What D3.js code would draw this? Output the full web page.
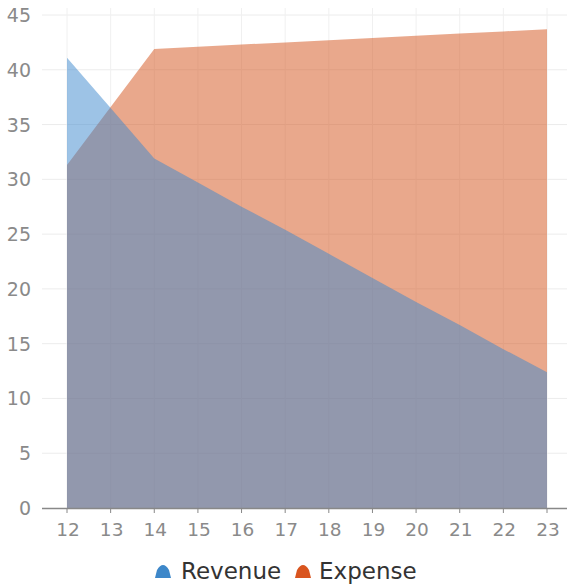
<!DOCTYPE html>
<html><head><meta charset="utf-8">
<script src="https://cdn.jsdelivr.net/npm/d3@7"></script>
<style>body{margin:0;background:#fff}svg{display:block}</style>
</head><body>
<script>
const xs = [12,13,14,15,16,17,18,19,20,21,22,23];
const revenue = [41.1,36.5,31.9,29.7,27.5,25.4,23.2,21.0,18.8,16.7,14.5,12.4];
const expense = [31.3,36.6,41.9,42.1,42.3,42.5,42.7,42.9,43.1,43.3,43.5,43.7];
const yTicks = [0,5,10,15,20,25,30,35,40,45];
const seriesNames = ["Revenue","Expense"];

const W=567,H=585;
const svg=d3.select("body").append("svg").attr("width",W).attr("height",H);
const x=d3.scaleLinear().domain([12,23]).range([67,547]);
const y=d3.scaleLinear().domain([0,45]).range([508,15]);

// grid
svg.append("g").selectAll("line.h").data(yTicks.filter(d=>d>0)).join("line")
 .attr("x1",42).attr("x2",567).attr("y1",d=>y(d)).attr("y2",d=>y(d))
 .attr("stroke","#ececec").attr("stroke-width",1);
svg.append("g").selectAll("line.v").data(xs).join("line")
 .attr("x1",d=>x(d)).attr("x2",d=>x(d)).attr("y1",8).attr("y2",508)
 .attr("stroke","#f0f0f0").attr("stroke-width",1);

const area=vals=>d3.area().x((d,i)=>x(xs[i])).y0(y(0)).y1(d=>y(d))(vals);
svg.append("path").attr("d",area(expense)).attr("fill","rgb(211,81,25)").attr("fill-opacity",0.5);
svg.append("path").attr("d",area(revenue)).attr("fill","rgb(59,135,205)").attr("fill-opacity",0.5);

// axes
svg.append("line").attr("x1",42).attr("x2",567).attr("y1",508.5).attr("y2",508.5).attr("stroke","#888").attr("stroke-width",1.3);
const gx=svg.append("g");
gx.selectAll("line").data(xs).join("line").attr("x1",d=>x(d)).attr("x2",d=>x(d)).attr("y1",508).attr("y2",513).attr("stroke","#888");
gx.selectAll("text").data(xs).join("text").attr("x",d=>x(d)+1).attr("y",536).attr("text-anchor","middle")
 .attr("font-family","DejaVu Sans").attr("font-size",18.5).attr("fill","#8a8a8a").text(d=>d);
svg.append("g").selectAll("text").data(yTicks).join("text").attr("x",31).attr("y",d=>y(d)+7).attr("text-anchor","end")
 .attr("font-family","DejaVu Sans").attr("font-size",19).attr("fill","#8a8a8a").text(d=>d);

// legend
const legCols=["#3d87c9","#d9551f"];
const lg=svg.append("g");
const pos=[[155,181],[295,319]];
seriesNames.forEach((n,i)=>{
  const ix=pos[i][0];
  lg.append("path").attr("d",`M${ix},578 L${ix+2},570 Q${ix+8},560 ${ix+14},570 L${ix+16},578 Z`).attr("fill",legCols[i]);
  lg.append("text").attr("x",pos[i][1]).attr("y",579).attr("font-family","DejaVu Sans").attr("font-size",23).attr("fill","#333").text(n);
});
</script>
</body></html>
